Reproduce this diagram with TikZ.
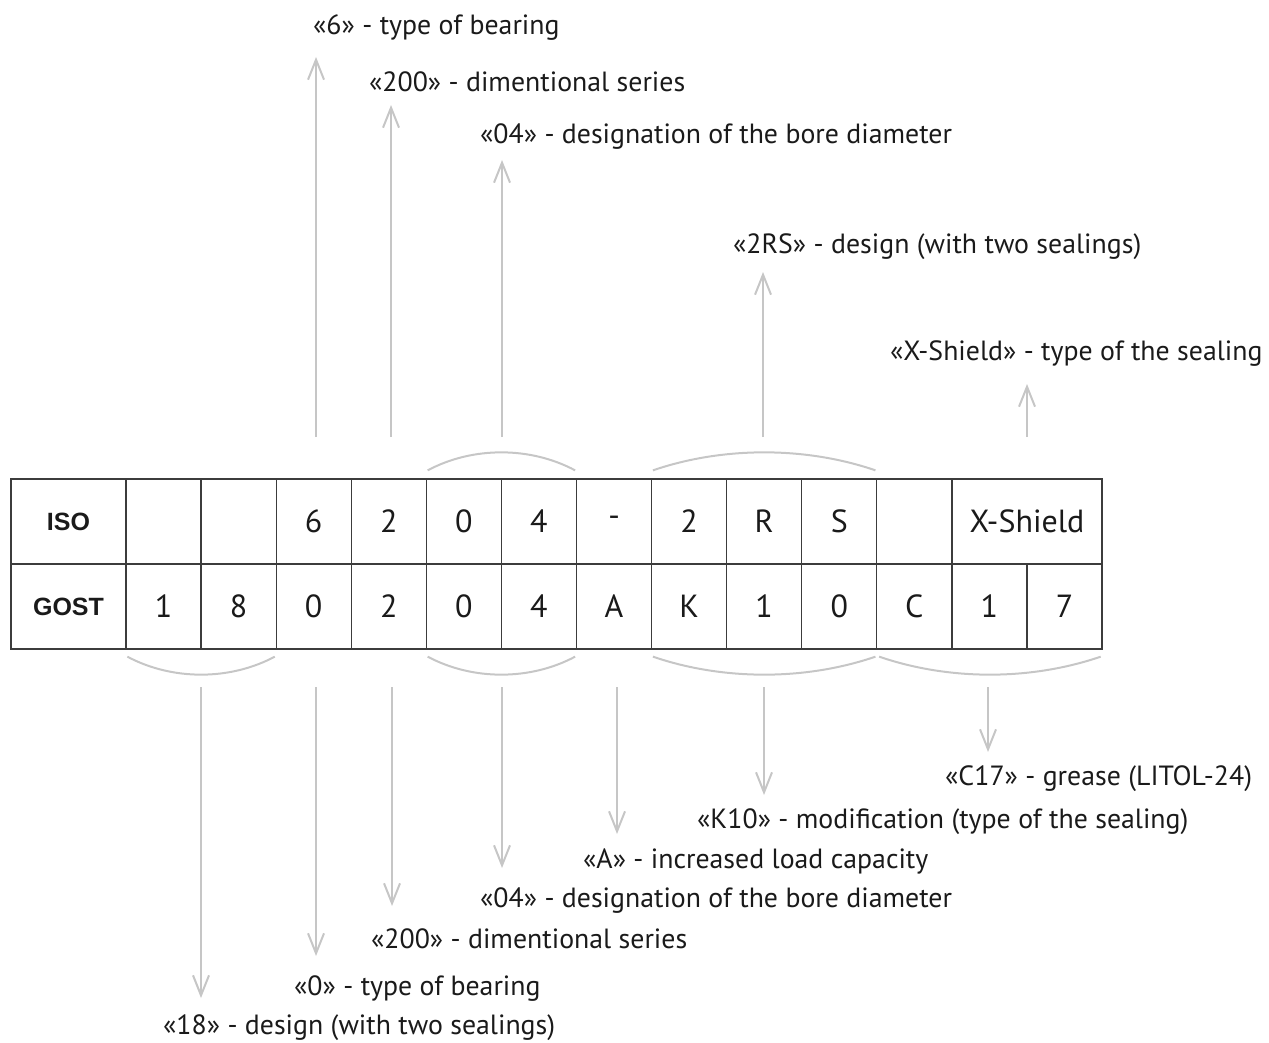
\documentclass[tikz,border=0pt]{standalone}
\usepackage{fontspec}
\setmainfont{PT Sans}
\newfontfamily\headfont{Liberation Sans}
\usepackage{xcolor}
\usetikzlibrary{arrows.meta,positioning,calc}
\definecolor{linegray}{HTML}{C6C6C6}
\definecolor{gridgray}{HTML}{3C3C3C}
\definecolor{inkblack}{HTML}{1A1A1A}
\tikzset{
  cell/.style={draw=gridgray,line width=1.3pt,minimum width=75.08pt,minimum height=85pt,inner sep=0pt,text=inkblack,font=\fontsize{32}{36}\selectfont},
  head/.style={cell,minimum width=115pt,font=\headfont\bfseries\fontsize{25}{28}\selectfont},
  wide/.style={cell,minimum width=150.16pt},
  brace/.style={line width=2pt,linegray},
  arr/.style={line width=2pt,linegray,-{Straight Barb[length=20pt,width=16pt]}},
  lab/.style={anchor=base west,inner sep=0pt,text=inkblack,font=\fontsize{27.8}{32}\selectfont}
}

\begin{document}
\begin{tikzpicture}[x=1pt,y=-1pt]
  \useasboundingbox (0,0) rectangle (1269,1043);
  % table
  \node[head] (iso) at (68.5,521.5) {ISO};
  \node[head] (gost) at (68.5,606.5) {GOST};
  \foreach \t [count=\i] in {{},{},6,2,0,4,-,2,R,S,{}}
    \node[cell] (iso\i) at ({126+75.08*(\i-0.5)},521.5) {\t};
  \node[wide] (iso12) at (1027.04,521.5) {X-Shield};
  \foreach \t [count=\i] in {1,8,0,2,0,4,A,K,1,0,C,1,7}
    \node[cell] (gost\i) at ({126+75.08*(\i-0.5)},606.5) {\t};

  % braces over the ISO groups
  \draw[brace] ([shift={(2pt,8pt)}]iso5.north west) .. controls +(45,-24) and +(-45,-24) .. ([shift={(-2pt,8pt)}]iso6.north east);
  \draw[brace] ([shift={(2pt,8pt)}]iso8.north west) .. controls +(70,-24) and +(-70,-24) .. ([shift={(-2pt,8pt)}]iso10.north east);
  % braces under the GOST groups
  \draw[brace] ([shift={(2pt,-7pt)}]gost1.south west) .. controls +(45,24) and +(-45,24) .. ([shift={(-2pt,-7pt)}]gost2.south east);
  \draw[brace] ([shift={(2pt,-7pt)}]gost5.south west) .. controls +(45,24) and +(-45,24) .. ([shift={(-2pt,-7pt)}]gost6.south east);
  \draw[brace] ([shift={(2pt,-7pt)}]gost8.south west) .. controls +(70,24) and +(-70,24) .. ([shift={(-2pt,-7pt)}]gost10.south east);
  \draw[brace] ([shift={(3pt,-7pt)}]gost11.south west) .. controls +(70,24) and +(-70,24) .. ([shift={(-2pt,-7pt)}]gost13.south east);

  % ISO labels
  \node[lab] (ltype) at (313,35) {«6» - type of bearing};
  \node[lab] (lseries) at (369,92) {«200» - dimentional series};
  \node[lab] (lbore) at (480,144) {«04» - designation of the bore diameter};
  \node[lab] (ldesign) at (733,254) {«2RS» - design (with two sealings)};
  \node[lab] (lshield) at (890,360) {«X-Shield» - type of the sealing};

  % GOST labels
  \node[lab] (lgrease) at (945,785) {«C17» - grease (LITOL-24)};
  \node[lab] (lmod) at (697,828) {«K10» - modification (type of the sealing)};
  \node[lab] (lload) at (583,868) {«A» - increased load capacity};
  \node[lab] (lboreg) at (480,907) {«04» - designation of the bore diameter};
  \node[lab] (lseriesg) at (371,948) {«200» - dimentional series};
  \node[lab] (ltypeg) at (294,995) {«0» - type of bearing};
  \node[lab] (ldesigng) at (163,1034) {«18» - design (with two sealings)};

  % arrows up
  \foreach \n/\x/\y in {a/316/57, b/391/105, c/502/160, d/763/272, e/1027/384}{
    \coordinate (us\n) at (\x,437);
    \coordinate (ue\n) at (\x,\y);
    \draw[arr] (us\n) -- (ue\n);
  }
  % arrows down
  \foreach \n/\x/\y in {a/201/998, b/316/956, c/392/906, d/502/868, e/617/834, f/764/795, g/988/752}{
    \coordinate (ds\n) at (\x,687);
    \coordinate (de\n) at (\x,\y);
    \draw[arr] (ds\n) -- (de\n);
  }
\end{tikzpicture}
\end{document}
